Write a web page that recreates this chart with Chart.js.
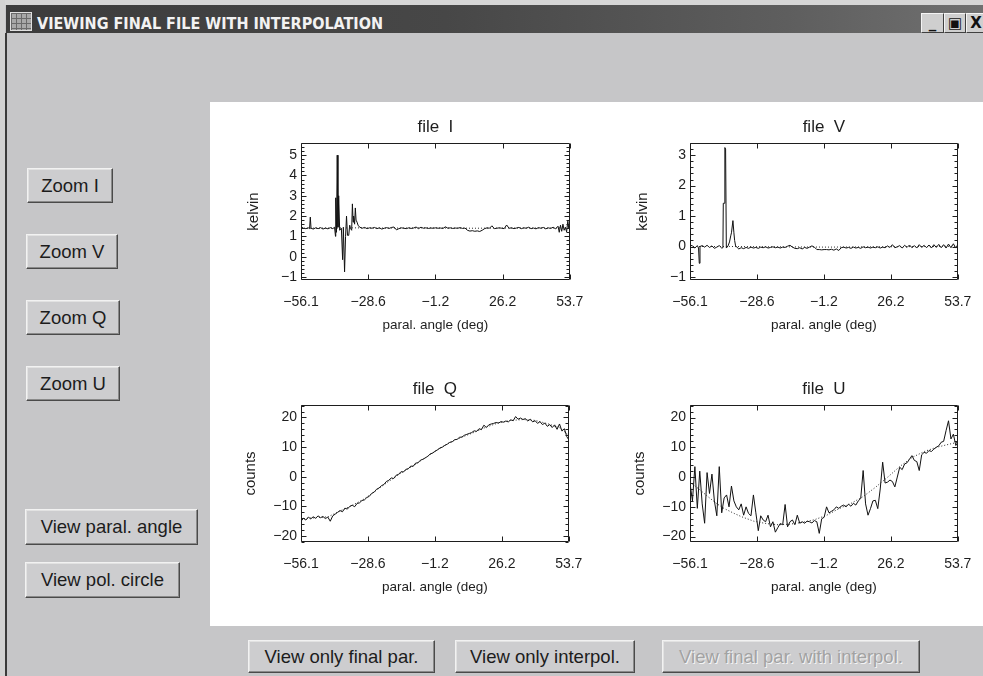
<!DOCTYPE html>
<html>
<head>
<meta charset="utf-8">
<script src="https://cdn.jsdelivr.net/npm/chart.js@4/dist/chart.umd.min.js"></script>
<style>
html,body{margin:0;padding:0;width:983px;height:676px;overflow:hidden;background:#c6c6c8;font-family:"Liberation Sans",Arial,sans-serif;}
#frameTop{position:absolute;left:0;top:0;width:983px;height:5px;background:#d6d6d6;}
#frameLeft{position:absolute;left:0;top:0;width:5px;height:676px;background:#d2d2d2;}
#leftLine{position:absolute;left:5px;top:33px;width:2px;height:643px;background:#3a3a3a;}
#titlebar{position:absolute;left:6px;top:5px;width:977px;height:28px;background:linear-gradient(to right,#3c3c3c 0%,#474747 45%,#5e5e5e 80%,#707070 100%);}
#icon{position:absolute;left:10px;top:12px;width:22px;height:19px;background:#a8a8a8;border:1px solid #e0e0e0;box-sizing:border-box;
  background-image:linear-gradient(#6a6a6a 1px,transparent 1px),linear-gradient(90deg,#6a6a6a 1px,transparent 1px);background-size:5px 5px;}
.wbtn{position:absolute;top:13px;height:20px;background:#cfcfcf;border:1px solid;border-color:#f4f4f4 #404040 #404040 #f4f4f4;box-sizing:border-box;
  font:bold 15px "DejaVu Sans",sans-serif;color:#111;display:flex;align-items:center;justify-content:center;}
#panel{position:absolute;left:210px;top:102px;width:773px;height:524px;background:#ffffff;}
.btn{position:absolute;box-sizing:border-box;background:#cdcdcf;border:1px solid;border-color:#f2f2f2 #4a4a4a #4a4a4a #f2f2f2;
  box-shadow:inset -1px -1px 0 #8a8a8a, inset 1px 1px 0 #e2e2e2;
  display:flex;align-items:center;justify-content:center;font-size:18.5px;color:#1c1c1c;white-space:nowrap;}
.btn.dis{color:#a2a2a2;text-shadow:1px 1px 0 #f4f4f4;}
.plot{position:absolute;}
</style>
</head>
<body>
<div id="frameTop"></div>
<div id="frameLeft"></div>
<div id="titlebar"></div>
<div id="icon"></div>
<svg style="position:absolute;left:0;top:0" width="983" height="40">
  <text x="37" y="29" textLength="346" lengthAdjust="spacingAndGlyphs" font-family="DejaVu Sans Condensed, DejaVu Sans, sans-serif" font-weight="bold" font-size="16" fill="#f2f2f2">VIEWING FINAL FILE WITH INTERPOLATION</text>
</svg>
<div class="wbtn" style="left:921px;width:23px;">_</div>
<div class="wbtn" style="left:944px;width:22px;">&#9635;</div>
<div class="wbtn" style="left:966px;width:20px;">X</div>
<div id="leftLine"></div>
<div id="panel"></div>

<div class="btn" style="left:27px;top:168px;width:86px;height:35px;">Zoom I</div>
<div class="btn" style="left:26px;top:234px;width:92px;height:35px;">Zoom V</div>
<div class="btn" style="left:26px;top:300px;width:94px;height:35px;">Zoom Q</div>
<div class="btn" style="left:26px;top:366px;width:94px;height:35px;">Zoom U</div>
<div class="btn" style="left:25px;top:509px;width:173px;height:36px;">View paral. angle</div>
<div class="btn" style="left:25px;top:562px;width:155px;height:36px;">View pol. circle</div>
<div class="btn" style="left:248px;top:640px;width:187px;height:33px;">View only final par.</div>
<div class="btn" style="left:455px;top:640px;width:180px;height:33px;">View only interpol.</div>
<div class="btn dis" style="left:662px;top:640px;width:258px;height:33px;">View final par. with interpol.</div>

<canvas id="cI" class="plot"></canvas>
<canvas id="cV" class="plot"></canvas>
<canvas id="cQ" class="plot"></canvas>
<canvas id="cU" class="plot"></canvas>

<script>
// ---------- data ----------
const xTickValues = [-56.1, -28.65, -1.2, 26.25, 53.7];
const xTickLabels = ['\u221256.1', '\u221228.6', '\u22121.2', '26.2', '53.7'];
const yTicksI = [-1, 0, 1, 2, 3, 4, 5];
const yTicksV = [-1, 0, 1, 2, 3];
const yTicksQU = [-20, -10, 0, 10, 20];

const anglesGrid = [
 -56.1,-55.1,-54.1,-53.1,-52.1,-51.1,-50.1,-49.1,-48.1,-47.1,
 -46.1,-45.1,-44.1,-43.1,-42.1,-41.1,-40.1,-39.1,-38.1,-37.1,
 -36.1,-35.1,-34.1,-33.1,-32.1,-31.1,-30.1,-29.1,-28.1,-27.1,
 -26.1,-25.1,-24.1,-23.1,-22.1,-21.1,-20.1,-19.1,-18.1,-17.1,
 -16.1,-15.1,-14.1,-13.1,-12.1,-11.1,-10.1,-9.1,-8.1,-7.1,
 -6.1,-5.1,-4.1,-3.1,-2.1,-1.1,-0.1,0.9,1.9,2.9,
 3.9,4.9,5.9,6.9,7.9,8.9,9.9,10.9,11.9,12.9,
 13.9,14.9,15.9,16.9,17.9,18.9,19.9,20.9,21.9,22.9,
 23.9,24.9,25.9,26.9,27.9,28.9,29.9,30.9,31.9,32.9,
 33.9,34.9,35.9,36.9,37.9,38.9,39.9,40.9,41.9,42.9,
 43.9,44.9,45.9,46.9,47.9,48.9,49.9,50.9,51.9,52.9,
 53.7];

const anglesI = [
 -56.1,-55.6,-55.1,-54.1,-53.1,-52.6,-52.3,-52.0,-51.1,-50.1,
 -49.1,-48.1,-47.1,-46.1,-45.1,-44.1,-43.1,-42.4,-42.0,-41.9,
 -41.6,-41.3,-41.0,-40.7,-40.3,-39.6,-39.1,-38.8,-38.3,-37.9,
 -37.5,-37.1,-36.6,-36.2,-35.9,-35.4,-35.1,-34.8,-34.6,-34.2,
 -33.9,-33.6,-33.2,-32.8,-32.1,-31.1,-30.1,-29.1,-28.1,-27.1,
 -26.1,-25.1,-24.1,-23.1,-22.1,-21.1,-20.1,-19.1,-18.1,-17.1,
 -16.1,-15.1,-14.1,-13.1,-12.1,-11.1,-10.1,-9.1,-8.1,-7.1,
 -6.1,-5.1,-4.1,-3.1,-2.1,-1.1,-0.1,0.9,1.9,2.9,
 3.9,4.9,5.9,6.9,7.9,8.9,9.9,10.9,11.9,12.9,
 13.9,14.9,15.9,16.9,17.9,18.9,19.9,20.9,21.9,22.9,
 23.9,24.9,25.9,26.9,27.9,28.9,29.9,30.9,31.9,32.9,
 33.9,34.9,35.9,36.9,37.9,38.9,39.9,40.9,41.9,42.9,
 43.9,44.9,45.9,46.9,47.9,48.9,49.4,49.9,50.4,50.9,
 51.4,51.9,52.4,52.9,53.3,53.7];
const valuesI = [
 1.35,1.45,1.40,1.38,1.42,1.38,1.95,1.40,1.36,1.42,
 1.38,1.43,1.36,1.41,1.37,1.43,1.38,1.45,1.00,2.90,
 1.20,5.00,1.45,3.00,1.30,1.40,-0.15,1.45,-0.75,1.00,
 2.00,1.05,1.05,1.55,1.40,1.30,2.60,1.70,2.00,1.60,
 2.40,1.80,1.70,1.55,1.45,1.40,1.44,1.38,1.42,1.40,
 1.44,1.38,1.42,1.36,1.40,1.43,1.39,1.44,1.46,1.32,
 1.38,1.42,1.40,1.38,1.42,1.39,1.41,1.46,1.38,1.45,
 1.40,1.42,1.39,1.41,1.40,1.42,1.40,1.41,1.39,1.47,
 1.40,1.42,1.39,1.41,1.40,1.43,1.39,1.41,1.30,1.26,
 1.28,1.25,1.27,1.24,1.30,1.38,1.42,1.40,1.52,1.38,
 1.40,1.42,1.40,1.38,1.56,1.40,1.42,1.38,1.41,1.44,
 1.38,1.42,1.40,1.45,1.38,1.41,1.37,1.43,1.40,1.44,
 1.37,1.42,1.39,1.45,1.37,1.50,1.20,1.55,1.25,1.60,
 1.30,1.45,1.22,1.75,1.40,1.60];
const interpAnglesI = [-56.1,-45,-35,-25,-15,-5,5,15,25,35,45,53.7];
const interpI = [1.40,1.41,1.42,1.41,1.41,1.42,1.41,1.40,1.41,1.41,1.41,1.42];

const anglesV = [
 -56.1,-55.1,-54.1,-53.1,-52.6,-52.3,-52.0,-51.1,-50.1,-49.1,
 -48.1,-47.1,-46.1,-45.1,-44.1,-43.1,-42.6,-42.45,-41.95,-41.8,
 -41.5,-41.2,-40.5,-39.9,-39.4,-39.1,-38.5,-38.1,-37.8,-37.4,
 -36.1,-35.1,-34.1,-33.1,-32.1,-31.1,-30.1,-29.1,-28.1,-27.1,
 -26.1,-25.1,-24.1,-23.1,-22.1,-21.1,-20.1,-19.1,-18.1,-17.1,
 -16.1,-15.1,-14.1,-13.1,-12.1,-11.1,-10.1,-9.1,-8.1,-7.1,
 -6.1,-5.1,-4.1,-3.1,-2.1,-1.1,-0.1,0.9,1.9,2.9,
 3.9,4.9,5.9,6.9,7.9,8.9,9.9,10.9,11.9,12.9,
 13.9,14.9,15.9,16.9,17.9,18.9,19.9,20.9,21.9,22.9,
 23.9,24.9,25.9,26.9,27.9,28.9,29.9,30.9,31.9,32.9,
 33.9,34.9,35.9,36.9,37.9,38.9,39.9,40.9,41.9,42.9,
 43.9,44.9,45.9,46.9,47.9,48.9,49.9,50.9,51.9,52.9,
 53.7];
const valuesV = [
 0.05,0.02,-0.05,0.03,-0.05,-0.55,0.00,0.03,-0.02,0.04,
 -0.03,0.02,-0.06,-0.02,0.03,-0.05,-0.04,1.42,1.42,3.25,
 3.20,-0.05,0.02,0.15,0.35,0.45,0.85,0.45,0.20,0.02,
 -0.08,-0.04,-0.07,-0.03,-0.06,-0.02,-0.05,-0.03,-0.06,-0.02,
 -0.04,-0.01,-0.05,-0.03,-0.01,-0.04,-0.02,-0.05,-0.02,-0.03,
 0.01,0.04,-0.02,-0.06,-0.07,-0.04,-0.08,-0.03,-0.06,-0.02,
 0.02,-0.02,-0.10,-0.10,-0.11,-0.10,-0.10,-0.11,-0.09,-0.12,
 -0.08,-0.13,-0.04,-0.02,-0.05,-0.03,-0.06,-0.02,-0.05,-0.03,
 -0.06,-0.01,-0.04,-0.02,-0.05,-0.02,-0.04,-0.01,-0.05,-0.02,
 -0.04,0.02,-0.03,0.06,-0.04,-0.01,0.03,-0.05,0.04,-0.03,
 0.05,-0.04,0.03,-0.05,0.06,-0.03,0.04,-0.04,0.05,-0.05,
 0.06,-0.03,0.07,-0.04,0.06,-0.05,0.08,-0.04,0.09,-0.05,
 0.06];
const interpAnglesV = [-56.1,-40,-20,0,20,40,53.7];
const interpV = [0.00,0.00,-0.01,-0.02,-0.01,0.00,0.01];

const valuesQ = [
 -15.0,-14.0,-14.6,-13.6,-14.2,-13.5,-14.0,-13.2,-13.8,-13.4,
 -14.1,-13.6,-15.0,-13.2,-12.6,-12.0,-11.4,-11.8,-10.6,-10.9,
 -10.0,-9.6,-10.1,-9.0,-8.8,-8.0,-7.8,-7.0,-6.6,-5.6,
 -5.2,-4.2,-3.8,-3.0,-2.6,-1.6,-1.2,-0.4,-0.6,0.5,
 0.8,1.7,1.6,2.5,2.7,3.6,3.5,4.6,4.7,5.6,
 5.9,6.4,6.9,7.7,8.0,8.6,9.1,9.7,10.0,10.6,
 11.0,11.6,11.8,12.5,12.6,13.3,13.4,14.0,14.3,14.6,
 14.9,15.5,15.3,16.2,15.9,17.4,16.6,17.5,17.8,18.0,
 18.3,18.1,18.6,18.4,18.8,18.5,19.2,18.9,20.3,19.4,
 19.8,19.3,19.6,18.8,19.4,18.5,18.9,18.0,18.6,17.6,
 18.1,17.0,17.6,16.6,17.5,16.0,17.8,15.4,16.2,13.5,
 12.5];
const interpAnglesQ = [-56.1,-50,-45,-40,-35,-30,-25,-20,-15,-10,-5,0,5,10,15,20,25,30,35,40,45,50,53.7];
const interpQ = [-14.2,-13.8,-13.5,-11.5,-9.6,-7.4,-4.4,-1.5,1.3,3.8,6.5,9.2,11.6,13.4,15.0,16.8,18.2,19.0,19.3,19.0,17.9,16.5,14.0];

const valuesU = [
 -2,-8,3.5,-10.5,2,-9,-15.5,1.5,-5.5,1,
 -8,-13,3.5,-12,-7,-6,-10,-3,-8,-10,
 -11,-9,-12.8,-10,-12.2,-13,-6,-12,-18,-13,
 -14.4,-15,-12.8,-16.7,-15,-18.5,-17,-15.6,-16,-9.2,
 -16.7,-15,-14.4,-16,-12.8,-15.5,-15,-15.5,-14.8,-15,
 -15.4,-14.6,-15,-18.9,-14,-13.5,-10,-12,-11.5,-11,
 -10,-10.5,-9.8,-9.4,-10,-9.1,-9.8,-8.8,-9.4,-8,
 -7.2,2.2,-9,-12.8,-10.6,-8,-7.8,-10.6,-4,5.0,
 -2,-1.7,-1,-1.5,-3.3,0,3.3,2.5,4.4,4.8,
 6,7.2,5.6,5.2,2.2,7.5,8.3,8,8.9,8.6,
 9.4,10,10.5,11.7,12,15.6,18.9,12.8,14.4,10.6,
 11.7];
const interpAnglesU = [-56.1,-52,-49,-45,-42,-38,-35,-30,-25,-20,-15,-10,-5,0,5,10,15,20,25,30,35,40,45,50,53.7];
const interpU = [-1.7,-4.3,-6.4,-9.0,-10.6,-12.2,-13.3,-14.8,-15.6,-16.0,-15.8,-15.2,-14.3,-12.8,-10.6,-8.8,-6.5,-3.4,0,3.6,6.6,8.6,10.0,11.0,11.7];

// ---------- drawing ----------
const FONT = '"Liberation Sans", Arial, sans-serif';
const INK = '#1e1e1e';

const idlBox = {
  id: 'idlBox',
  afterDatasetsDraw(chart, args, o) {
    const {ctx, chartArea: a} = chart;
    const xs = chart.scales.x, ys = chart.scales.y;
    ctx.save();
    ctx.strokeStyle = INK;
    ctx.lineWidth = 1;
    const L = Math.round(a.left) + 0.5, R = Math.round(a.right) - 0.5;
    const T = Math.round(a.top) + 0.5, B = Math.round(a.bottom) - 0.5;
    ctx.beginPath();
    ctx.rect(L, T, R - L, B - T);
    xs.ticks.forEach(t => {
      const p = Math.round(xs.getPixelForValue(t.value)) + 0.5;
      ctx.moveTo(p, B); ctx.lineTo(p, B - 5);
      ctx.moveTo(p, T); ctx.lineTo(p, T + 5);
    });
    ys.ticks.forEach(t => {
      const p = Math.round(ys.getPixelForValue(t.value)) + 0.5;
      ctx.moveTo(L, p); ctx.lineTo(L + 5, p);
      ctx.moveTo(R, p); ctx.lineTo(R - 5, p);
    });
    const step = o.minor;
    const k0 = Math.ceil(ys.min / step), k1 = Math.floor(ys.max / step);
    for (let k = k0; k <= k1; k++) {
      const p = Math.round(ys.getPixelForValue(k * step)) + 0.5;
      ctx.moveTo(L, p); ctx.lineTo(L + 3, p);
      ctx.moveTo(R, p); ctx.lineTo(R - 3, p);
    }
    ctx.stroke();
    ctx.fillStyle = INK;
    ctx.font = '17px ' + FONT;
    ctx.textAlign = 'center';
    ctx.textBaseline = 'middle';
    ctx.fillText(o.title, (a.left + a.right) / 2, a.top - o.titleGap);
    ctx.restore();
  }
};

const AXL = 61, PADT = 40, PADR = 24, AXB = 58;

function fmtY(v) { return v < 0 ? '\u2212' + Math.abs(v) : String(v); }

function makePlot(id, box, spec) {
  const cv = document.getElementById(id);
  const w = box.w + AXL + PADR, h = box.h + PADT + AXB;
  cv.width = w; cv.height = h;
  cv.style.left = (box.l - AXL) + 'px';
  cv.style.top = (box.t - PADT) + 'px';
  cv.style.width = w + 'px';
  cv.style.height = h + 'px';
  new Chart(cv, {
    type: 'line',
    data: {
      datasets: [
        { data: spec.ix.map((x, i) => ({x: x, y: spec.iy[i]})), borderColor: '#2a2a2a', borderWidth: 1,
          borderDash: [1, 2], pointRadius: 0, tension: 0, fill: false },
        { data: spec.x.map((x, i) => ({x: x, y: spec.y[i]})), borderColor: '#111', borderWidth: 1,
          pointRadius: 0, tension: 0, fill: false }
      ]
    },
    options: {
      responsive: false, animation: false, devicePixelRatio: 1,
      layout: { padding: { top: PADT, right: PADR, left: 0, bottom: 0 } },
      plugins: { legend: { display: false }, tooltip: { enabled: false },
        idlBox: { title: spec.title, minor: spec.minor, titleGap: 16 } },
      scales: {
        x: {
          type: 'linear', min: -56.1, max: 53.7,
          grid: { display: false, drawTicks: false }, border: { display: false },
          afterBuildTicks: s => { s.ticks = xTickValues.map(v => ({value: v})); },
          afterFit: s => { s.height = AXB; },
          ticks: { autoSkip: false, maxRotation: 0, padding: 13.6, color: INK,
            font: { family: FONT, size: 14 }, callback: (v, i) => xTickLabels[i] },
          title: { display: true, text: 'paral. angle (deg)', color: INK,
            font: { family: FONT, size: 13.5 }, padding: { top: 0, bottom: 5 } }
        },
        y: {
          type: 'linear', min: spec.ymin, max: spec.ymax,
          grid: { display: false, drawTicks: false }, border: { display: false },
          afterBuildTicks: s => { s.ticks = spec.yt.map(v => ({value: v})); },
          afterFit: s => { s.width = AXL; },
          ticks: { autoSkip: false, padding: 4, color: INK, font: { family: FONT, size: 14 },
            callback: v => fmtY(v) },
          title: { display: true, text: spec.ylab, color: INK,
            font: { family: FONT, size: 15 }, padding: { top: spec.ytp, bottom: 0 } }
        }
      }
    },
    plugins: [idlBox]
  });
}

makePlot('cI', {l: 301, t: 143, w: 272, h: 137},
  {title: 'file  I', x: anglesI, y: valuesI, ix: interpAnglesI, iy: interpI,
   ymin: -1.15, ymax: 5.6, yt: yTicksI, minor: 0.2, ylab: 'kelvin', ytp: 5});
makePlot('cV', {l: 690, t: 143, w: 271, h: 137},
  {title: 'file  V', x: anglesV, y: valuesV, ix: interpAnglesV, iy: interpV,
   ymin: -1.1, ymax: 3.4, yt: yTicksV, minor: 0.2, ylab: 'kelvin', ytp: 5});
makePlot('cQ', {l: 301, t: 405, w: 271, h: 137},
  {title: 'file  Q', x: anglesGrid, y: valuesQ, ix: interpAnglesQ, iy: interpQ,
   ymin: -22, ymax: 24.2, yt: yTicksQU, minor: 2, ylab: 'counts', ytp: 2});
makePlot('cU', {l: 690, t: 405, w: 271, h: 137},
  {title: 'file  U', x: anglesGrid, y: valuesU, ix: interpAnglesU, iy: interpU,
   ymin: -21.8, ymax: 24.2, yt: yTicksQU, minor: 2, ylab: 'counts', ytp: 2});
</script>
</body>
</html>
